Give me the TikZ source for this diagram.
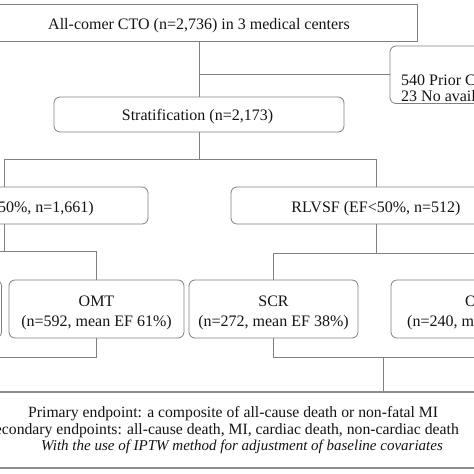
\documentclass[tikz,border=0pt]{standalone}
\usepackage{fontspec}
\setmainfont{Liberation Serif}
\definecolor{linegray}{RGB}{128,128,128}
\definecolor{txt}{RGB}{20,20,20}
\begin{document}
\begin{tikzpicture}[x=1pt,y=-1pt,
  ln/.style={draw=linegray, line width=0.8pt},
  sqbox/.style={draw=linegray, line width=0.8pt, inner sep=0pt, rectangle},
  rbox/.style={draw=linegray, line width=0.8pt, inner sep=0pt, rectangle, rounded corners=6pt},
  endbox/.style={draw=linegray!90, line width=1.4pt, inner sep=0pt, rectangle},
  tx/.style={inner sep=0pt, text=txt, font=\fontsize{16}{19}\selectfont},
  txs/.style={inner sep=0pt, text=txt, font=\fontsize{15.7}{16}\selectfont},
  txi/.style={inner sep=0pt, text=txt, font=\fontsize{15}{16}\selectfont\itshape}]
\useasboundingbox (0,0) rectangle (474,474);
\fill[white] (0,0) rectangle (474,474);
% boxes
\node[sqbox, minimum width=436pt, minimum height=37pt] (top) at (199,22.5) {};
\node[rbox, minimum width=200pt, minimum height=57.5pt] (excl) at (490,74.75) {};
\node[rbox, minimum width=290pt, minimum height=35pt] (strat) at (199,114.5) {};
\node[rbox, minimum width=288pt, minimum height=37pt] (plvsf) at (4,205.5) {};
\node[rbox, minimum width=290pt, minimum height=37pt] (rlvsf) at (376,205.5) {};
\node[rbox, minimum width=175pt, minimum height=58pt] (ll) at (-86,309) {};
\node[rbox, minimum width=175pt, minimum height=58pt] (omtl) at (96.5,309) {};
\node[rbox, minimum width=169pt, minimum height=58pt] (scr) at (273.5,309) {};
\node[rbox, minimum width=175pt, minimum height=58pt] (omtr) at (478.5,309) {};
\node[endbox, minimum width=520pt, minimum height=76pt] (endp) at (240,430) {};
% texts
\node[tx, anchor=base] (t1) at (199,29.5) {All-comer CTO (n=2,736) in 3 medical centers};
\node[tx, anchor=base west] (t2a) at (401,85) {540 Prior CABG};
\node[tx, anchor=base west] (t2b) at (401,101.5) {23 No available EF data};
\node[tx, anchor=base] (t3) at (197.5,120) {Stratification (n=2,173)};
\node[tx, anchor=base east] (t4) at (94,212.3) {PLVSF (EF≥50\%, n=1,661)};
\node[tx, anchor=base] (t5) at (376,212.3) {RLVSF (EF<50\%, n=512)};
\node[tx, anchor=base] (t6a) at (96.5,306) {OMT};
\node[tx, anchor=base] (t6b) at (96.5,326.7) {(n=592, mean EF 61\%)};
\node[tx, anchor=base] (t7a) at (273.5,306) {SCR};
\node[tx, anchor=base] (t7b) at (273.5,326.7) {(n=272, mean EF 38\%)};
\node[tx, anchor=base west] (t8a) at (465,306) {OMT};
\node[tx, anchor=base west] (t8b) at (407,326.7) {(n=240, mean EF};
\node[txs, anchor=base west] (e1) at (28,417.5) {Primary endpoint: a composite of all-cause death or non-fatal MI};
\node[txs, anchor=base east] (e2) at (459,434) {Secondary endpoints: all-cause death, MI, cardiac death, non-cardiac death};
\node[txi, anchor=base west] (e3) at (41,450) {With the use of IPTW method for adjustment of baseline covariates};
% connectors
\draw[ln] (top.south) -- (top.south |- strat.north);
\draw[ln] (top.south |- excl.west) -- (excl.west);
\draw[ln] (strat.south) -- ++(0,27) coordinate (j1);
\draw[ln] (plvsf.north) |- (j1);
\draw[ln] (rlvsf.north) |- (j1);
\draw[ln] (plvsf.south) -- ++(0,27) coordinate (j2);
\draw[ln] (ll.north) |- (j2);
\draw[ln] (omtl.north) |- (j2);
\draw[ln] (rlvsf.south) -- ++(0,29) coordinate (j3);
\draw[ln] (scr.north) |- (j3);
\draw[ln] (omtr.north) |- (j3);
\draw[ln] (ll.south) -- ++(0,19) -| (omtl.south);
\draw[ln] (scr.south) -- ++(0,19) coordinate (j4) -| (omtr.south);
\coordinate (m2) at (383,357);
\draw[ln] (m2) -- (m2 |- endp.north);
\end{tikzpicture}
\end{document}
